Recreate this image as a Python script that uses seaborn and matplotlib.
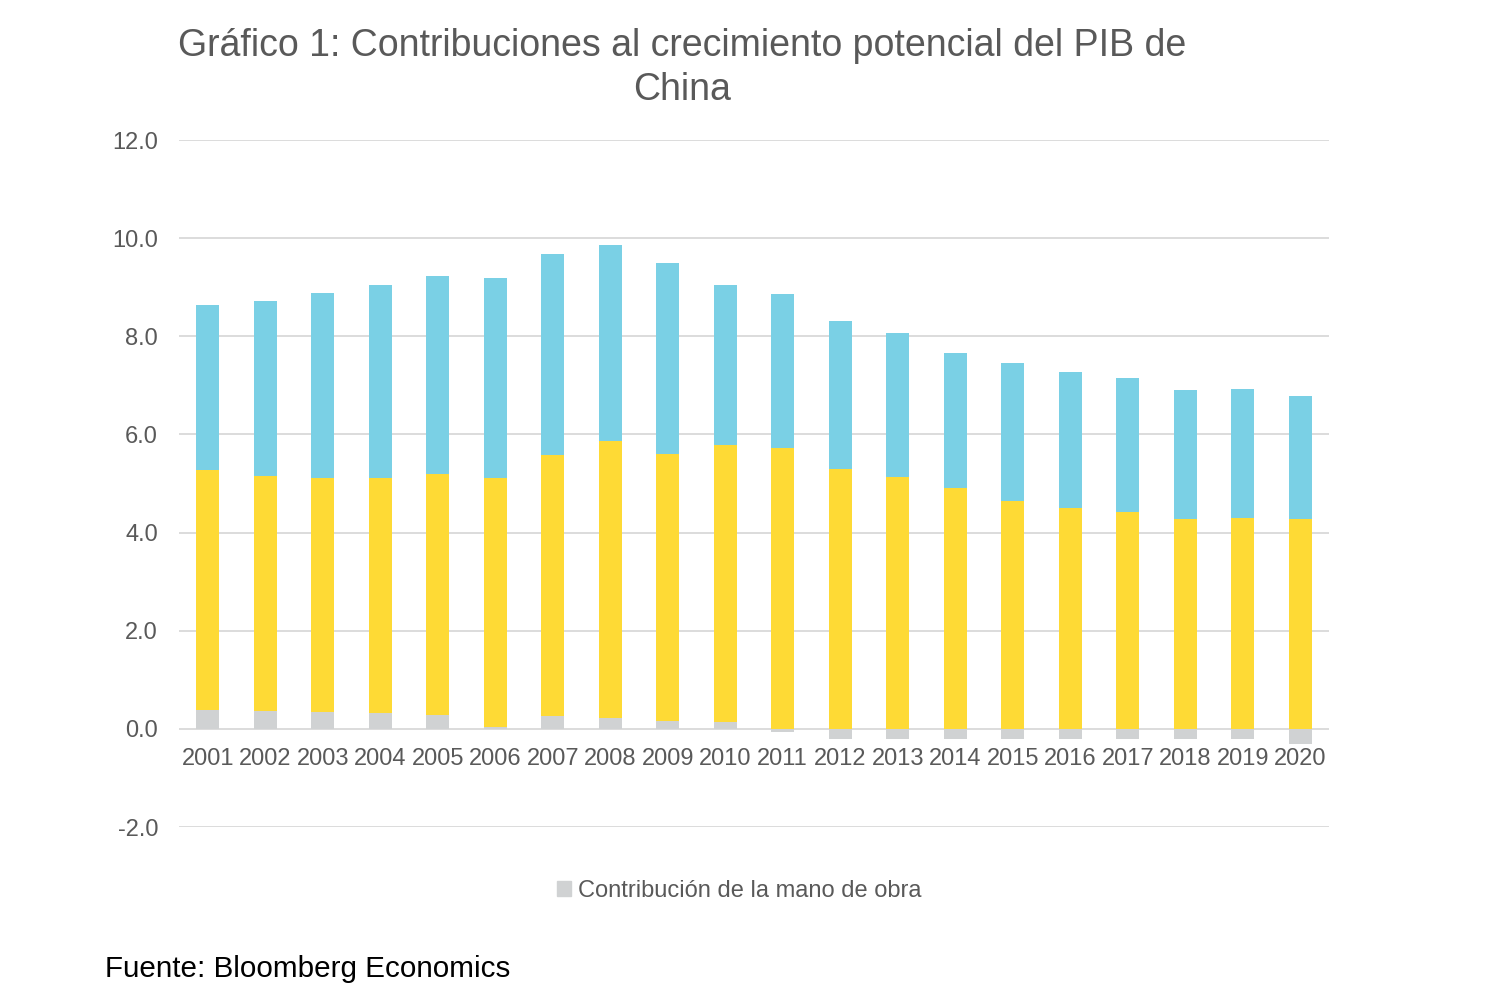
import numpy as np
import pandas as pd
import seaborn as sns
import matplotlib.pyplot as plt
from matplotlib.patches import Patch

years = [str(y) for y in range(2001, 2021)]
# contribuciones (puntos porcentuales)
mano_obra = [0.39, 0.36, 0.35, 0.32, 0.29, 0.03, 0.26, 0.22, 0.17, 0.14,
             -0.07, -0.20, -0.20, -0.20, -0.20, -0.20, -0.20, -0.20, -0.20, -0.31]
capital = [4.88, 4.80, 4.76, 4.80, 4.90, 5.08, 5.33, 5.64, 5.44, 5.64,
           5.72, 5.29, 5.13, 4.90, 4.64, 4.51, 4.41, 4.27, 4.30, 4.27]
productividad = [3.37, 3.57, 3.77, 3.92, 4.04, 4.08, 4.08, 4.00, 3.89, 3.26,
                 3.14, 3.02, 2.94, 2.77, 2.81, 2.76, 2.74, 2.63, 2.62, 2.51]
yticks = [-2, 0, 2, 4, 6, 8, 10, 12]

c_mano = '#D0D2D3'
c_cap = '#FEDA35'
c_prod = '#7AD0E5'
txt = '#595959'

df = pd.DataFrame({'year': years, 'mano': mano_obra, 'cap': capital, 'prod': productividad})
# stacking a la Excel: positivos hacia arriba, negativos hacia abajo
df['top_cap'] = df['mano'].clip(lower=0) + df['cap']
df['top_prod'] = df['top_cap'] + df['prod']

sns.set_theme(style='white')
plt.rcParams['font.family'] = ['Liberation Sans', 'DejaVu Sans']

fig = plt.figure(figsize=(15, 10.01), dpi=100)
ax = fig.add_axes([0.1193, 0.1738, 0.7667, 0.6863])

sns.barplot(data=df, x='year', y='top_prod', color=c_prod, width=0.4,
            saturation=1, linewidth=0, ax=ax)
sns.barplot(data=df, x='year', y='top_cap', color=c_cap, width=0.4,
            saturation=1, linewidth=0, ax=ax)
sns.barplot(data=df, x='year', y='mano', color=c_mano, width=0.4,
            saturation=1, linewidth=0, ax=ax)

ax.set_ylim(-2, 12)
ax.set_yticks(yticks)
ax.set_yticklabels([f'{v:.1f}' for v in yticks])
ax.yaxis.grid(True, color='#D9D9D9', linewidth=1.3)
ax.set_axisbelow(True)
for s in ['top', 'right', 'left']:
    ax.spines[s].set_visible(False)
ax.spines['bottom'].set_position(('data', 0))
ax.spines['bottom'].set_visible(False)
ax.set_xlabel('')
ax.set_ylabel('')
ax.tick_params(axis='y', length=0, pad=15, labelsize=17, labelcolor=txt)
ax.tick_params(axis='x', length=0, pad=14, labelsize=17, labelcolor=txt)

fig.text(0.455, 0.972, 'Gráfico 1: Contribuciones al crecimiento potencial del PIB de\nChina',
         ha='center', va='top', fontsize=27, color=txt, linespacing=1.27)

fig.legend(handles=[Patch(color=c_mano, label='Contribución de la mano de obra')],
           loc='center', bbox_to_anchor=(0.493, 0.11), frameon=False,
           fontsize=17, labelcolor=txt, handlelength=0.6, handleheight=0.6,
           handletextpad=0.3)

fig.text(0.07, 0.032, 'Fuente: Bloomberg Economics', ha='left', va='center',
         fontsize=21.3, color='black')

fig.savefig('out.png', dpi=100)
